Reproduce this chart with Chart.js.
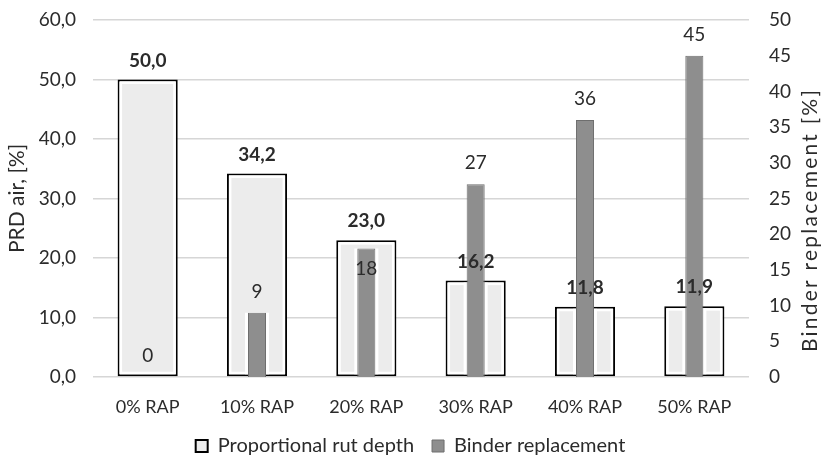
<!DOCTYPE html>
<html>
<head>
<meta charset="utf-8">
<script src="https://cdn.jsdelivr.net/npm/chart.js@4/dist/chart.umd.min.js"></script>
<style>
  html, body { margin: 0; padding: 0; background: #ffffff; }
  #wrap { width: 821px; height: 458px; }
</style>
</head>
<body>
<div id="wrap"><canvas id="chart" width="821" height="458"></canvas></div>
<script>
// Mix categories (share of reclaimed asphalt)
const categories = ['0% RAP', '10% RAP', '20% RAP', '30% RAP', '40% RAP', '50% RAP'];
// Proportional rut depth in air, % (left axis)
const rutDepth = [50.0, 34.2, 23.0, 16.2, 11.8, 11.9];
// Binder replacement, % (right axis)
const binderReplacement = [0, 9, 18, 27, 36, 45];
// Axis tick values
const leftTicks = [0, 10, 20, 30, 40, 50, 60];
const rightTicks = [0, 5, 10, 15, 20, 25, 30, 35, 40, 45, 50];

const FONT = 'Lato, "Open Sans", sans-serif';
const TEXT = '#2b2b2b';
const OUTLINE = 2;

const fmtComma = v => v.toFixed(1).replace('.', ',');

// Where each binder label sits relative to its bar top
const binderLabelPlacement = ['above', 'above', 'inside', 'above', 'above', 'above'];

const valueLabels = {
  id: 'valueLabels',
  afterDatasetsDraw(chart) {
    const ctx = chart.ctx;
    ctx.save();
    ctx.textAlign = 'center';
    ctx.textBaseline = 'middle';
    ctx.fillStyle = TEXT;
    chart.data.datasets.forEach((ds, di) => {
      const meta = chart.getDatasetMeta(di);
      meta.data.forEach((el, i) => {
        if (di === 0) {
          ctx.font = 'bold 19px ' + FONT;
          ctx.fillText(fmtComma(ds.data[i]), el.x, el.y - 19);
        } else {
          ctx.font = '19px ' + FONT;
          const dy = binderLabelPlacement[i] === 'inside' ? 20 : -21;
          ctx.fillText(String(ds.data[i]), el.x, el.y + dy);
        }
      });
    });
    ctx.restore();
  }
};

// White inner rim of the outlined bars, and a white gap around the grey bar inside them
const barRims = {
  id: 'barRims',
  beforeDatasetDraw(chart, args) {
    if (args.index !== 1) return;
    const ctx = chart.ctx;
    const outer = chart.getDatasetMeta(0).data;
    const inner = chart.getDatasetMeta(1).data;
    const rim = 2.5;
    ctx.save();
    ctx.fillStyle = '#ffffff';
    ctx.strokeStyle = '#ffffff';
    ctx.lineWidth = rim;
    outer.forEach((o, i) => {
      // interior of the outlined bar
      const l = o.x - o.width / 2 + OUTLINE, r = o.x + o.width / 2 - OUTLINE;
      const t = o.y + OUTLINE, b = o.base - OUTLINE;
      ctx.strokeRect(l + rim / 2, t + rim / 2, r - l - rim, b - t - rim);
      const g = inner[i];
      if (!g || g.base - g.y < 1) return;
      const gl = Math.max(l, g.x - g.width / 2 - 3);
      const gr = Math.min(r, g.x + g.width / 2 + 3);
      const gt = Math.max(g.y, t);
      ctx.fillRect(gl, gt, gr - gl, b - gt);
    });
    ctx.restore();
  }
};

// Right-hand axis title, reading bottom to top
const rightTitle = {
  id: 'rightTitle',
  afterDraw(chart) {
    const ctx = chart.ctx;
    const text = 'Binder replacement [%]';
    ctx.save();
    ctx.font = '21px ' + FONT;
    const w = ctx.measureText(text).width;
    const spacing = Math.max(0, (262 - w) / (text.length - 1));
    ctx.letterSpacing = spacing.toFixed(2) + 'px';
    ctx.translate(810, 220);
    ctx.rotate(-Math.PI / 2);
    ctx.fillStyle = TEXT;
    ctx.textAlign = 'center';
    ctx.textBaseline = 'middle';
    ctx.fillText(text, 0, 0);
    ctx.restore();
  }
};

// Value axes: fixed width, no extra vertical padding around the plot
const fitValueAxis = width => s => {
  s.width = width;
  s.paddingTop = 0;
  s.paddingBottom = 0;
};

new Chart(document.getElementById('chart'), {
  type: 'bar',
  data: {
    labels: categories,
    datasets: [
      {
        label: 'Proportional rut depth',
        data: rutDepth,
        yAxisID: 'yLeft',
        grouped: false,
        order: 2,
        backgroundColor: '#ececec',
        borderColor: '#000000',
        borderWidth: OUTLINE,
        borderSkipped: false,
        barPercentage: 0.55,
        categoryPercentage: 1.0
      },
      {
        label: 'Binder replacement',
        data: binderReplacement,
        yAxisID: 'yRight',
        grouped: false,
        order: 1,
        backgroundColor: '#8e8e8e',
        borderColor: '#6e6e6e',
        borderWidth: 1,
        barPercentage: 0.165,
        categoryPercentage: 1.0
      }
    ]
  },
  options: {
    responsive: false,
    animation: false,
    devicePixelRatio: 1,
    layout: { padding: { top: 20, bottom: -8, left: 0, right: 0 } },
    plugins: {
      tooltip: { enabled: false },
      legend: {
        position: 'bottom',
        labels: {
          sort: (a, b) => a.datasetIndex - b.datasetIndex,
          boxWidth: 12,
          boxHeight: 12,
          padding: 18,
          color: TEXT,
          font: { family: FONT, size: 20 }
        }
      }
    },
    scales: {
      x: {
        afterFit: s => { s.height = 41; },
        grid: { display: false, drawTicks: false },
        border: { display: false },
        ticks: { color: TEXT, font: { family: FONT, size: 18 }, padding: 19, maxRotation: 0 }
      },
      yLeft: {
        position: 'left',
        min: 0, max: 60,
        afterBuildTicks: s => { s.ticks = leftTicks.map(v => ({ value: v })); },
        afterFit: fitValueAxis(93),
        grid: { color: '#d6d6d6', lineWidth: 1.5, drawTicks: false },
        border: { display: false },
        ticks: { color: TEXT, font: { family: FONT, size: 19 }, padding: 17, callback: v => fmtComma(v) },
        title: { display: true, text: 'PRD air, [%]', color: TEXT, font: { family: FONT, size: 21 }, padding: { top: 5, bottom: 0 } }
      },
      yRight: {
        position: 'right',
        min: 0, max: 50,
        afterBuildTicks: s => { s.ticks = rightTicks.map(v => ({ value: v })); },
        afterFit: fitValueAxis(72),
        grid: { display: false, drawTicks: false },
        border: { display: false },
        ticks: { color: TEXT, font: { family: FONT, size: 19 }, padding: 20 }
      }
    }
  },
  plugins: [barRims, valueLabels, rightTitle]
});
</script>
</body>
</html>
